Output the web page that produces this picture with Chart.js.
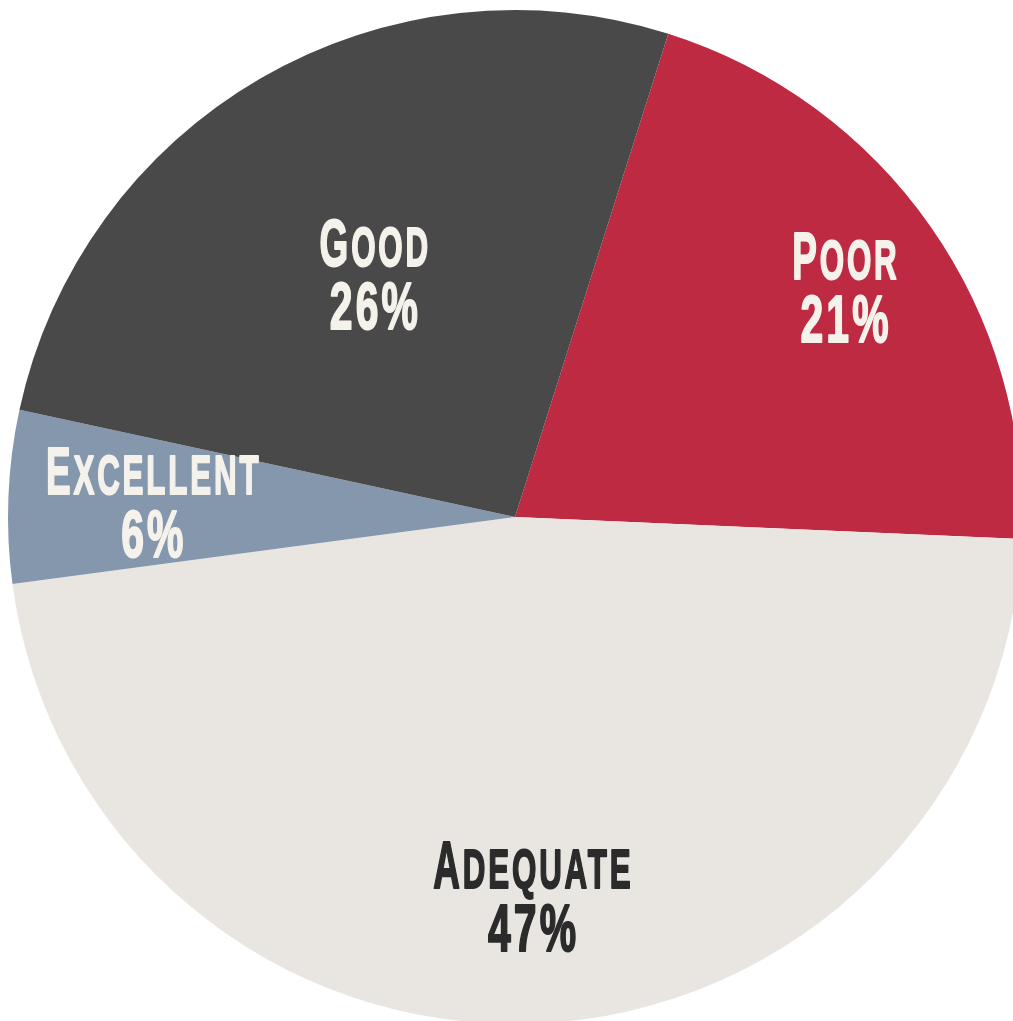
<!DOCTYPE html>
<html>
<head>
<meta charset="utf-8">
<script src="https://cdn.jsdelivr.net/npm/chart.js@4"></script>
<style>
  html, body { margin: 0; padding: 0; background: #fff; overflow: hidden; }
  #wrap { position: absolute; left: 0; top: 0; width: 1030px; height: 1034px; }
</style>
</head>
<body>
<div id="wrap"><canvas id="myChart"></canvas></div>
<script>
// data
var categories = ['Poor', 'Adequate', 'Excellent', 'Good'];
var shares = [20.8, 47.2, 5.5, 26.5];
var pctLabels = ['21%', '47%', '6%', '26%'];

var sliceColors = ['#bd2a42', '#e9e6e1', '#8597ad', '#494949'];
var textColors = ['#f5f2ec', '#2b2b2b', '#f5f2ec', '#f5f2ec'];
// how far out (fraction of radius) each label sits
var labelDepth = [0.793, 0.749, 0.716, 0.555];

var FACE = '"Liberation Sans Narrow", "Liberation Sans", sans-serif';
var BIG = 66, SMALL = 56;
var WORD_SQUEEZE = 0.56, NUM_SQUEEZE = 0.62;
var GAP = 5; // extra spacing between letters, before squeezing

function ink(ctx, txt, x, y) {
    ctx.fillText(txt, x, y);
    ctx.strokeText(txt, x, y);
}

// draws "Excellent" as E + XCELLENT in smaller caps, centred on x
function smallCaps(ctx, word, x, y) {
    var first = word.charAt(0).toUpperCase();
    var rest = word.slice(1).toUpperCase();
    ctx.letterSpacing = GAP + 'px';
    ctx.font = 'bold ' + BIG + 'px ' + FACE;
    var w1 = ctx.measureText(first).width;
    ctx.font = 'bold ' + SMALL + 'px ' + FACE;
    var w2 = ctx.measureText(rest).width;
    ctx.save();
    ctx.translate(x, y);
    ctx.scale(WORD_SQUEEZE, 1);
    var left = -(w1 + w2 - GAP) / 2;
    ctx.textAlign = 'left';
    ctx.textBaseline = 'alphabetic';
    ctx.font = 'bold ' + BIG + 'px ' + FACE;
    ink(ctx, first, left, 0);
    ctx.font = 'bold ' + SMALL + 'px ' + FACE;
    ink(ctx, rest, left + w1, 0);
    ctx.restore();
}

function plainText(ctx, txt, x, y) {
    ctx.letterSpacing = GAP + 'px';
    ctx.font = 'bold ' + BIG + 'px ' + FACE;
    var w = ctx.measureText(txt).width;
    ctx.save();
    ctx.translate(x, y);
    ctx.scale(NUM_SQUEEZE, 1);
    ctx.textAlign = 'left';
    ctx.textBaseline = 'alphabetic';
    ink(ctx, txt, -(w - GAP) / 2, 0);
    ctx.restore();
}

var sliceLabels = {
    id: 'sliceLabels',
    afterDatasetsDraw: function(chart) {
        var ctx = chart.ctx;
        var arcs = chart.getDatasetMeta(0).data;
        ctx.save();
        arcs.forEach(function(arc, i) {
            var p = arc.getProps(['x', 'y', 'startAngle', 'endAngle', 'outerRadius'], true);
            var mid = (p.startAngle + p.endAngle) / 2;
            var r = p.outerRadius * labelDepth[i];
            var cx = p.x + Math.cos(mid) * r;
            var cy = p.y + Math.sin(mid) * r;
            ctx.fillStyle = textColors[i];
            ctx.strokeStyle = textColors[i];
            ctx.lineWidth = 2;
            ctx.lineJoin = 'round';
            smallCaps(ctx, categories[i], cx, cy - 8);
            plainText(ctx, pctLabels[i], cx, cy + 55);
        });
        ctx.letterSpacing = '0px';
        ctx.restore();
    }
};

var ctx = document.getElementById('myChart').getContext('2d');
var myChart = new Chart(ctx, {
    type: 'pie',
    data: {
        labels: categories,
        datasets: [{
            data: shares,
            backgroundColor: sliceColors,
            borderWidth: 0
        }]
    },
    options: {
        responsive: true,
        maintainAspectRatio: false,
        animation: false,
        rotation: 17.6,
        layout: { padding: { left: 8, right: 8, top: 10, bottom: 10 } },
        plugins: {
            legend: { display: false },
            tooltip: { enabled: false }
        }
    },
    plugins: [sliceLabels]
});
</script>
</body>
</html>
